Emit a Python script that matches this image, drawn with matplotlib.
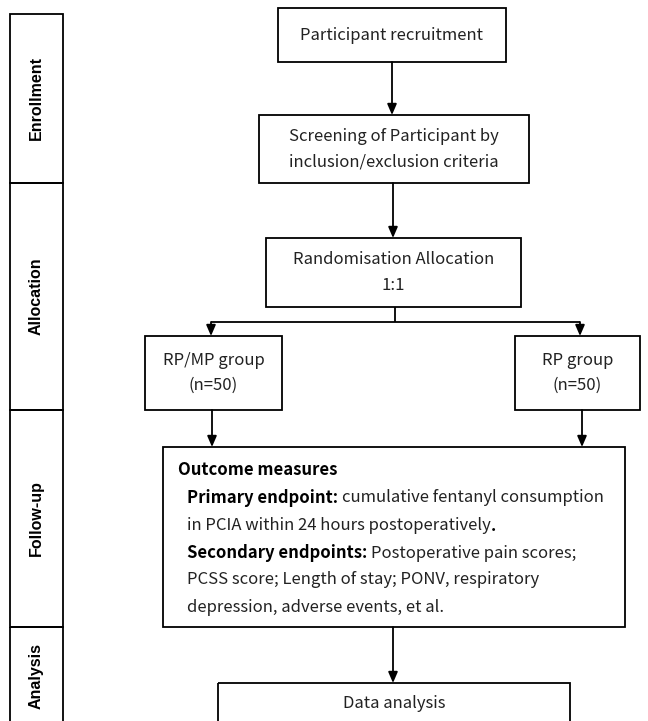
import matplotlib
matplotlib.use("Agg")
import matplotlib.pyplot as plt
from matplotlib.patches import Rectangle

# ---- content ----
stages = ["Enrollment", "Allocation", "Follow-up", "Analysis"]
box_texts = [
    "Participant recruitment",
    "Screening of Participant by\ninclusion/exclusion criteria",
    "Randomisation Allocation\n1:1",
    "RP/MP group\n(n=50)",
    "RP group\n(n=50)",
    "Data analysis",
]
outcome_title = "Outcome measures"
outcome_lines = [
    [("Primary endpoint: ", True), ("cumulative fentanyl consumption", False)],
    [("in PCIA within 24 hours postoperatively", False), (".", True)],
    [("Secondary endpoints: ", True), ("Postoperative pain scores;", False)],
    [("PCSS score; Length of stay; PONV, respiratory", False)],
    [("depression, adverse events, et al.", False)],
]

MAIN_FONT = ["Noto Sans CJK SC", "DejaVu Sans"]
LABEL_FONT = ["Liberation Sans", "DejaVu Sans"]
FS = 12
LW = 1.3

fig = plt.figure(figsize=(6.48, 7.21), dpi=100)
ax = fig.add_axes([0, 0, 1, 1])
ax.set_xlim(0, 648)
ax.set_ylim(721, 0)
ax.axis("off")

def box(x0, y0, x1, y1):
    ax.add_patch(Rectangle((x0, y0), x1 - x0, y1 - y0, fill=False,
                           edgecolor="black", lw=LW, zorder=2))

def arrow(x, y0, y1):
    ax.annotate("", xy=(x, y1), xytext=(x, y0),
                arrowprops=dict(arrowstyle="-|>,head_length=0.65,head_width=0.28",
                                color="black", lw=LW, shrinkA=0, shrinkB=0))

def line(xs, ys):
    ax.plot(xs, ys, color="black", lw=LW, solid_capstyle="butt")

# ---- left stage column ----
stage_bounds = [14, 183, 410, 627, 740]
for i, s in enumerate(stages):
    y0, y1 = stage_bounds[i], stage_bounds[i + 1]
    box(10, y0, 63, y1)
    yc = (y0 + y1) / 2 if i < 3 else 676
    ax.text(36.5, yc, s, rotation=90, ha="center", va="center",
            fontsize=11.5, fontweight="bold", family=LABEL_FONT)

# ---- main boxes ----
boxes = [
    (278, 8, 506, 62),
    (259, 115, 529, 183),
    (266, 238, 521, 307),
    (145, 336, 282, 410),
    (515, 336, 640, 410),
    (218, 683, 570, 740),
]
for (x0, y0, x1, y1), t in zip(boxes, box_texts):
    box(x0, y0, x1, y1)
    yc = (y0 + y1) / 2 if y1 < 721 else 704
    ax.text((x0 + x1) / 2, yc, t, ha="center", va="center", fontsize=FS,
            family=MAIN_FONT, linespacing=1.65, color="#222222")

# ---- arrows ----
arrow(392, 62, 115)
arrow(393, 183, 238)
line([395, 395], [307, 322])
line([211, 580], [322, 322])
arrow(211, 322, 336)
arrow(580, 322, 336)
arrow(212, 410, 447)
arrow(582, 410, 447)
arrow(393, 627, 683)

# ---- outcome box ----
box(163, 447, 625, 627)
ax.text(178, 470, outcome_title, ha="left", va="center", fontsize=FS,
        fontweight="bold", family=MAIN_FONT, color="black")
fig.canvas.draw()
renderer = fig.canvas.get_renderer()
inv = ax.transData.inverted()
line_y = [498, 526, 553, 580, 608]
for y, parts in zip(line_y, outcome_lines):
    x = 187
    for txt, bold in parts:
        t = ax.text(x, y, txt, ha="left", va="center", fontsize=FS,
                    fontweight="bold" if bold else "normal",
                    family=MAIN_FONT, color="black" if bold else "#222222")
        bb = t.get_window_extent(renderer=renderer)
        x = inv.transform((bb.x1, bb.y0))[0]

fig.savefig("out.png", dpi=100, facecolor="white")
